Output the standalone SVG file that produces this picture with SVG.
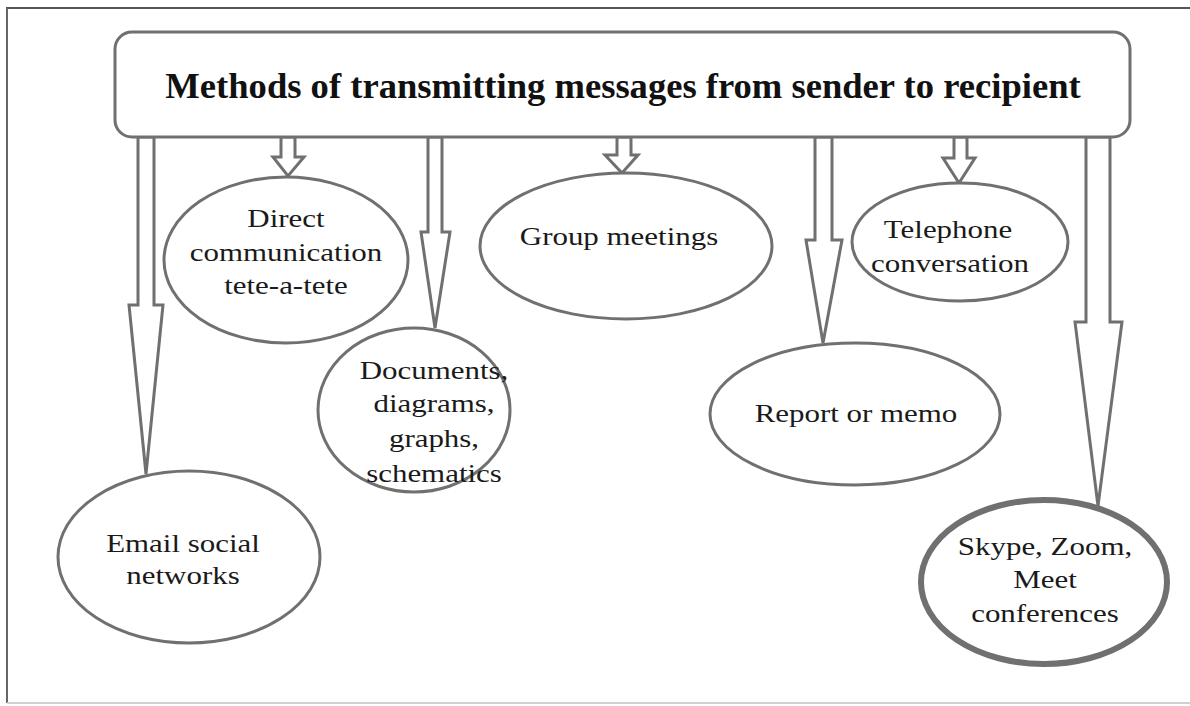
<svg xmlns="http://www.w3.org/2000/svg" width="1190" height="706" viewBox="0 0 1190 706">
  <style>
    .frame { fill: none; stroke-width: 2; }
    .title-box { fill: #ffffff; stroke: #707070; stroke-width: 3; }
    .title { font-family: "Liberation Serif", "Times New Roman", serif; font-weight: bold; font-size: 36.6px; fill: #111111; text-anchor: middle; }
    .node { fill: #ffffff; stroke: #707070; stroke-width: 3; }
    .node-thick { stroke-width: 6; }
    .label { font-family: "Liberation Serif", "Times New Roman", serif; font-size: 26px; fill: #1a1a1a; text-anchor: middle; }
    .arrow { fill: #ffffff; stroke: #707070; stroke-width: 3; stroke-linejoin: miter; }
  </style>

  <rect width="1190" height="706" fill="#ffffff"/>

  <!-- outer frame -->
  <line class="frame" x1="6" y1="8" x2="1190" y2="8" stroke="#555555"/>
  <line class="frame" x1="7" y1="8" x2="7" y2="703" stroke="#666666"/>
  <line class="frame" x1="7" y1="703" x2="1190" y2="703" stroke="#d0d0d0"/>

  <!-- hollow block arrows from the title box to each method -->
  <g id="connectors">
    <polygon class="arrow" points="138,137 154,137 154,305 163,305 146,474 129,305 138,305"/>
    <polygon class="arrow" points="281,137 295,137 295,157 304,157 288,176 273,157 281,157"/>
    <polygon class="arrow" points="428,137 442,137 442,232 450,232 435,328 421,232 428,232"/>
    <polygon class="arrow" points="617,137 631,137 631,155 638,155 622,173 605,155 617,155"/>
    <polygon class="arrow" points="815,137 832,137 832,240 842,240 823,343 806,240 815,240"/>
    <polygon class="arrow" points="954,137 967,137 967,158 975,158 959,183 943,158 954,158"/>
    <polygon class="arrow" points="1086,137 1110,137 1110,322 1122,322 1098,506 1075,322 1086,322"/>
  </g>

  <g id="title">
    <rect class="title-box" x="115" y="32" width="1015" height="105" rx="17" ry="17"/>
    <text class="title" x="623" y="98">Methods of transmitting messages from sender to recipient</text>
  </g>

  <g id="direct">
    <ellipse class="node" cx="286" cy="260" rx="122" ry="83"/>
    <text class="label" transform="translate(286 227) scale(1.19 1)">Direct</text>
    <text class="label" transform="translate(286 261) scale(1.19 1)">communication</text>
    <text class="label" transform="translate(286 294) scale(1.19 1)">tete-a-tete</text>
  </g>

  <g id="documents">
    <ellipse class="node" cx="414" cy="410" rx="96" ry="82"/>
    <text class="label" transform="translate(434 379) scale(1.19 1)">Documents,</text>
    <text class="label" transform="translate(434 412) scale(1.19 1)">diagrams,</text>
    <text class="label" transform="translate(434 447) scale(1.19 1)">graphs,</text>
    <text class="label" transform="translate(434 482) scale(1.19 1)">schematics</text>
  </g>

  <g id="group-meetings">
    <ellipse class="node" cx="626" cy="246" rx="146" ry="73"/>
    <text class="label" transform="translate(619 245) scale(1.19 1)">Group meetings</text>
  </g>

  <g id="report">
    <ellipse class="node" cx="855" cy="414" rx="145" ry="71"/>
    <text class="label" transform="translate(856 422) scale(1.19 1)">Report or memo</text>
  </g>

  <g id="telephone">
    <ellipse class="node" cx="960" cy="242" rx="108" ry="59"/>
    <text class="label" transform="translate(948 238) scale(1.19 1)">Telephone</text>
    <text class="label" transform="translate(950 272) scale(1.19 1)">conversation</text>
  </g>

  <g id="email">
    <ellipse class="node" cx="189" cy="557" rx="131" ry="86"/>
    <text class="label" transform="translate(183 552) scale(1.19 1)">Email social</text>
    <text class="label" transform="translate(183 584) scale(1.19 1)">networks</text>
  </g>

  <g id="conferences">
    <ellipse class="node node-thick" cx="1044" cy="582" rx="123" ry="82"/>
    <text class="label" transform="translate(1045 555) scale(1.19 1)">Skype, Zoom,</text>
    <text class="label" transform="translate(1045 588) scale(1.19 1)">Meet</text>
    <text class="label" transform="translate(1045 622) scale(1.19 1)">conferences</text>
  </g>
</svg>
